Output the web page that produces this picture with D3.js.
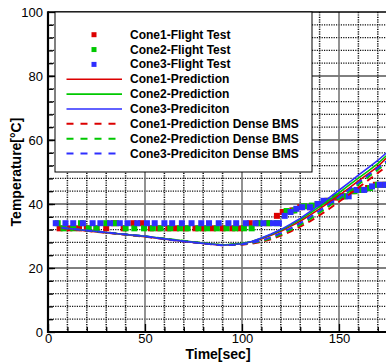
<!DOCTYPE html>
<html>
<head>
<meta charset="utf-8">
<script src="https://cdn.jsdelivr.net/npm/d3@7"></script>
<style>
    body { margin: 0; background: #fff; }
    svg text { font-family: "Liberation Sans", Arial, sans-serif; }
</style>
</head>
<body>
<div id="main"></div>
<script>
// tick labels
const timeTicks = [0, 50, 100, 150];
const tempTicks = [0, 20, 40, 60, 80, 100];

// flight test data [time, temp]
const cone1Flight = [[6, 32.4], [11, 32.4], [16, 32.4], [20, 32.4], [25, 32.4], [30, 32.4], [34, 34], [39, 32.4],
    [44, 34], [48, 34], [53, 32.4], [57, 32.4], [62, 32.4], [66, 32.4], [71, 32.4], [76, 32.4], [80, 32.4],
    [85, 32.4], [90, 32.4], [95, 32.4], [99, 32.4], [104, 34], [108, 34], [113, 34], [118, 36.3], [121, 37.5],
    [126, 38], [130, 39], [135, 39], [139, 40], [144, 41], [148, 42], [152, 42.4], [157, 44], [161, 44.4],
    [165, 45], [169, 46], [173, 46]];
const cone2Flight = [[5, 34], [8, 32.4], [13, 32.4], [17, 34], [21, 32.4], [25, 32.4], [30, 34], [35, 34],
    [40, 32.4], [44.5, 32.4], [49.5, 32.4], [54, 32.4], [58, 32.4], [63, 32.4], [68, 32.4], [72, 32.4],
    [77.5, 32.4], [82, 32.4], [87, 32.4], [92, 32.4], [96.5, 32.4], [101, 32.4], [105, 32.4], [109, 34],
    [114, 34], [118, 34], [123, 37.8], [127, 38], [132, 39.3], [136, 39.5], [140, 40], [145, 41], [149, 42.4],
    [153, 42.4], [158, 44], [162, 44.4], [166, 45], [170, 46], [174, 46]];
const cone3Flight = [[4, 34], [9, 34], [13, 34], [18, 34], [23, 34], [27, 34], [32, 34], [37, 34], [41, 34],
    [46, 34], [51, 34], [55, 34], [60, 34], [64, 34], [69, 34], [74, 34], [79, 34], [83, 34], [88, 34],
    [93, 34], [97, 34], [102, 34], [107, 34], [111, 34], [116, 34], [119, 34], [122, 36.3], [125, 37.5],
    [128, 38.5], [131, 39], [135, 39], [139, 40], [142, 41], [146, 41], [151, 42.4], [155, 42.4], [159, 44.4],
    [163, 44.4], [167, 45.5], [171, 46], [174, 46]];

// predictions
const predTime = [7, 20, 35, 50, 65, 80, 90, 100, 105, 110, 115, 120, 125, 130, 135, 140, 145, 150, 155, 160, 165, 170, 176];
const cone1Pred = [32.5, 31.6, 30.7, 29.8, 28.7, 27.7, 27.1, 27.6, 28.2, 29.1, 30.2, 31.5, 33.0, 34.6, 36.5, 38.5, 40.6, 42.7, 44.9, 47.2, 49.4, 51.7, 55.3];
const cone2Pred = [32.6, 31.7, 30.8, 29.9, 28.8, 27.8, 27.2, 27.7, 28.3, 29.3, 30.5, 31.8, 33.4, 35.1, 37.1, 39.2, 41.3, 43.5, 45.8, 48.1, 50.3, 52.6, 56.0];
const cone3Pred = [32.6, 31.7, 30.8, 29.9, 28.7, 27.7, 27.1, 27.6, 28.3, 29.4, 30.6, 32.0, 33.7, 35.5, 37.6, 39.8, 42.0, 44.3, 46.6, 49.0, 51.3, 53.6, 56.8];
const cone1Dense = [32.5, 31.6, 30.7, 29.8, 28.7, 27.7, 27.1, 27.3, 27.6, 28.2, 29.0, 30.1, 31.4, 32.9, 34.6, 36.5, 38.5, 40.7, 42.9, 45.1, 47.4, 49.7, 52.4];
const cone2Dense = [32.6, 31.7, 30.8, 29.9, 28.8, 27.8, 27.2, 27.4, 27.8, 28.4, 29.3, 30.5, 31.9, 33.5, 35.3, 37.3, 39.4, 41.6, 43.8, 46.1, 48.4, 50.7, 53.4];
const cone3Dense = [32.6, 31.7, 30.8, 29.9, 28.7, 27.7, 27.1, 27.4, 27.9, 28.6, 29.6, 30.9, 32.4, 34.0, 35.9, 37.9, 40.0, 42.2, 44.4, 46.7, 49.0, 51.3, 54.0];

const legendNames = ["Cone1-Flight Test", "Cone2-Flight Test", "Cone3-Flight Test",
    "Cone1-Prediction", "Cone2-Prediction", "Cone3-Prediciton",
    "Cone1-Prediction Dense BMS", "Cone2-Prediction Dense BMS", "Cone3-Prediciton Dense BMS"];

const ctx = {
    svg_w: 386,
    svg_h: 363,
    left: 48,
    right: 387.5,
    top: 12,
    bottom: 332,
    red: "#dc0000",
    green: "#00c800",
    blue: "#2e2eff",
};

function createViz() {
    let svg = d3.select("#main").append("svg")
        .attr("width", ctx.svg_w)
        .attr("height", ctx.svg_h);

    let x = d3.scaleLinear().domain([0, 175]).range([ctx.left, ctx.right]);
    let y = d3.scaleLinear().domain([0, 100]).range([ctx.bottom, ctx.top]);

    /* grid */
    let grid = svg.append("g").attr("id", "grid");
    let minorX = d3.range(10, 180, 10).filter(d => d % 50 != 0);
    let minorY = d3.range(4, 100, 4).filter(d => d % 20 != 0);

    grid.selectAll(".vminor").data(minorX).enter().append("line")
        .attr("x1", x).attr("x2", x)
        .attr("y1", ctx.top).attr("y2", ctx.bottom)
        .style("stroke", "#111").style("stroke-width", 1.5)
        .style("stroke-dasharray", "1.2,1.2");
    grid.selectAll(".hminor").data(minorY).enter().append("line")
        .attr("x1", ctx.left).attr("x2", ctx.right)
        .attr("y1", y).attr("y2", y)
        .style("stroke", "#111").style("stroke-width", 1.3)
        .style("stroke-dasharray", "1.2,1.2");
    grid.selectAll(".hmajor").data([20, 40, 60, 80]).enter().append("line")
        .attr("x1", ctx.left).attr("x2", ctx.right)
        .attr("y1", y).attr("y2", y)
        .style("stroke", "#000").style("stroke-width", 1);
    grid.selectAll(".vmajor").data([50, 100, 150]).enter().append("line")
        .attr("x1", x).attr("x2", x)
        .attr("y1", ctx.top).attr("y2", ctx.bottom)
        .style("stroke", "#777").style("stroke-width", 1.6);

    /* flight test squares */
    let marks = svg.append("g").attr("id", "marks");
    [[cone1Flight, ctx.red], [cone2Flight, ctx.green], [cone3Flight, ctx.blue]].forEach(function (s) {
        marks.append("g").selectAll("rect")
            .data(s[0]).enter().append("rect")
            .attr("x", d => x(d[0]) - 3)
            .attr("y", d => y(d[1]) - 3)
            .attr("width", 6).attr("height", 6)
            .style("fill", s[1]);
    });

    /* prediction lines */
    let line = d3.line().x(d => x(d[0])).y(d => y(d[1]));
    let lines = svg.append("g").attr("id", "lines");
    let series = [
        [cone1Pred, ctx.red, false], [cone2Pred, ctx.green, false], [cone3Pred, ctx.blue, false],
        [cone1Dense, ctx.red, true], [cone2Dense, ctx.green, true], [cone3Dense, ctx.blue, true],
    ];
    series.forEach(function (s) {
        lines.append("path")
            .datum(d3.zip(predTime, s[0]))
            .attr("d", line)
            .style("fill", "none")
            .style("stroke", s[1])
            .style("stroke-width", s[2] ? 2 : 1.6)
            .style("stroke-dasharray", s[2] ? "7,5" : null);
    });

    /* axes */
    svg.append("g").attr("transform", `translate(${ctx.left},0)`)
        .call(d3.axisLeft(y).tickValues(tempTicks).tickSize(-7).tickPadding(5));
    svg.append("g").attr("transform", `translate(${ctx.left},0)`)
        .call(d3.axisLeft(y).tickValues(d3.range(4, 100, 4)).tickSize(-5).tickFormat(""));
    svg.append("g").attr("transform", `translate(0,${ctx.bottom})`)
        .call(d3.axisBottom(x).tickValues(timeTicks).tickSize(-8).tickPadding(2));
    svg.append("g").attr("transform", `translate(0,${ctx.bottom})`)
        .call(d3.axisBottom(x).tickValues(minorX).tickSize(-5).tickFormat(""));
    svg.selectAll(".domain").remove();
    svg.selectAll(".tick line").style("stroke", "#000").style("stroke-width", 1.3);
    svg.selectAll(".tick text")
        .style("font-size", "13px")
        .style("fill", "#000");

    // frame
    svg.append("line").attr("x1", ctx.left).attr("x2", ctx.right)
        .attr("y1", ctx.top).attr("y2", ctx.top)
        .style("stroke", "#000").style("stroke-width", 1.5);
    svg.append("line").attr("x1", ctx.left).attr("x2", ctx.left)
        .attr("y1", ctx.top - 0.7).attr("y2", ctx.bottom + 1)
        .style("stroke", "#000").style("stroke-width", 2.2);
    svg.append("line").attr("x1", ctx.left - 1).attr("x2", ctx.right)
        .attr("y1", ctx.bottom).attr("y2", ctx.bottom)
        .style("stroke", "#000").style("stroke-width", 2.2);

    /* axis titles */
    svg.append("text")
        .attr("transform", `translate(21,${(ctx.top + ctx.bottom) / 2}) rotate(-90)`)
        .attr("text-anchor", "middle")
        .style("font-size", "14px").style("font-weight", "bold")
        .text("Temperature[°C]");
    svg.append("text")
        .attr("x", 218).attr("y", 359)
        .attr("text-anchor", "middle")
        .style("font-size", "14px").style("font-weight", "bold")
        .text("Time[sec]");

    createLegend(svg);
}

function createLegend(svg) {
    let colors = [ctx.red, ctx.green, ctx.blue];
    let lg = svg.append("g").attr("id", "legend");
    lg.append("rect")
        .attr("x", 55).attr("y", ctx.top)
        .attr("width", 257).attr("height", 160)
        .style("fill", "#fff").style("stroke", "#000").style("stroke-width", 1);

    legendNames.forEach(function (name, i) {
        let cy = 34.7 + i * 14.85;
        let c = colors[i % 3];
        if (i < 3) {
            lg.append("rect")
                .attr("x", 91.5).attr("y", cy - 2.5)
                .attr("width", 5).attr("height", 5)
                .style("fill", c);
        } else {
            lg.append("line")
                .attr("x1", 66.5).attr("x2", 122)
                .attr("y1", cy).attr("y2", cy)
                .style("stroke", c)
                .style("stroke-width", i < 6 ? 1.6 : 2)
                .style("stroke-dasharray", i < 6 ? null : "7,7");
        }
        lg.append("text")
            .attr("x", 130).attr("y", cy)
            .attr("dy", "0.34em")
            .style("font-size", "12px").style("font-weight", "bold")
            .text(name);
    });
}

createViz();
</script>
</body>
</html>
